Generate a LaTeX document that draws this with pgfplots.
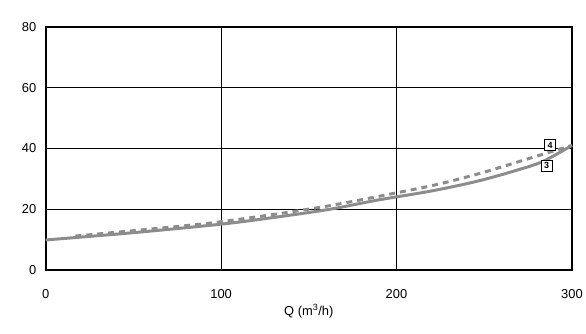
\documentclass[border=0pt]{standalone}
\usepackage{fontspec}
\setmainfont{Liberation Sans}
\usepackage{pgfplots}
\pgfplotsset{compat=1.18}
\definecolor{curvegray}{HTML}{8C8C8C}

\begin{document}
\begin{tikzpicture}
\begin{axis}[
  scale only axis,
  width=530pt, height=245pt,
  xmin=0, xmax=300, ymin=0, ymax=80,
  xtick={0,100,200,300}, ytick={0,20,40,60,80},
  grid=major,
  major grid style={black, line width=0.8pt},
  axis line style={black, line width=2pt},
  tick style={draw=none},
  tick label style={font=\fontsize{13}{15}\selectfont},
  /pgf/number format/assume math mode=true,
  xticklabel style={yshift=-16pt},
  yticklabel style={xshift=-6pt},
  xlabel={Q (m\textsuperscript{3}/h)},
  xlabel style={font=\fontsize{13}{15}\selectfont, yshift=1pt},
  clip=false,
]
% curve 3
\addplot[curvegray, line width=3pt, smooth] coordinates {
  (0,9.9) (50,12.3) (100,15.1) (130,17.3) (162,20.0) (189,23.0)
  (217,25.7) (236,27.9) (250,29.8) (266,32.4) (283,35.6) (300,41.0)
};
% curve 4
\addplot[curvegray, line width=3pt, dash pattern=on 6pt off 5pt, smooth] coordinates {
  (17,11.2) (60,13.5) (100,15.9) (155,20.5) (200,25.4)
  (225,28.4) (250,32.2) (275,36.6) (300,41.0)
};
\node[draw, line width=0.6pt, fill=white, inner sep=1.2pt, minimum size=11pt,
      font=\fontsize{9}{10}\selectfont\bfseries] at (axis cs:287.5,41.1) {4};
\node[draw, line width=0.6pt, fill=white, inner sep=1.2pt, minimum size=11pt,
      font=\fontsize{9}{10}\selectfont\bfseries] at (axis cs:285.6,34.4) {3};
\end{axis}
\path[use as bounding box] (-46pt,-64pt) rectangle (540pt,272pt);
\end{tikzpicture}
\end{document}
